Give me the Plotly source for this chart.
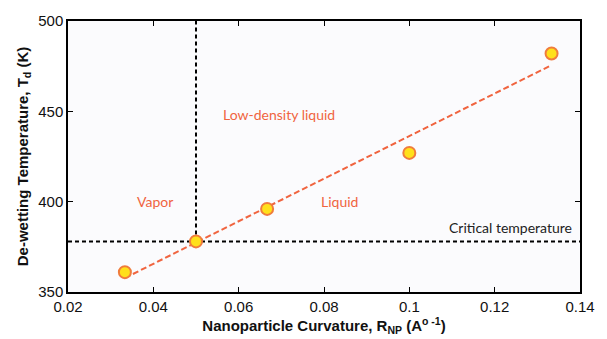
import numpy as np
import plotly.graph_objects as go

# Nanoparticle curvature (1/Å) and de-wetting temperature (K)
curvature = [1 / 30, 0.05, 1 / 15, 0.10, 2 / 15]
t_dewet = [361, 378, 396, 427, 482]
t_critical = 378
x_range = [0.02, 0.14]
y_range = [350, 500]
x_ticks = [0.02, 0.04, 0.06, 0.08, 0.10, 0.12, 0.14]
x_tick_text = ["0.02", "0.04", "0.06", "0.08", "0.1", "0.12", "0.14"]
y_ticks = [350, 400, 450, 500]

# Least-squares linear fit through the measured points
slope, intercept = np.polyfit(curvature, t_dewet, 1)
fit_x = [curvature[0], curvature[-1]]
fit_y = [slope * v + intercept for v in fit_x]

accent = "#F0643F"

fig = go.Figure()

# Critical temperature (horizontal) and vapor boundary (vertical)
fig.add_trace(go.Scatter(x=x_range, y=[t_critical, t_critical], mode="lines",
                         line=dict(color="black", width=2, dash="4px,3px"),
                         hoverinfo="skip", showlegend=False))
fig.add_trace(go.Scatter(x=[curvature[1], curvature[1]], y=[t_critical, y_range[1]],
                         mode="lines", line=dict(color="black", width=2, dash="4px,3px"),
                         hoverinfo="skip", showlegend=False))

fig.add_trace(go.Scatter(x=fit_x, y=fit_y, mode="lines",
                         line=dict(color=accent, width=2, dash="6px,3px"),
                         showlegend=False))
fig.add_trace(go.Scatter(x=curvature, y=t_dewet, mode="markers",
                         marker=dict(size=12, color="#FFE01A",
                                     line=dict(color="#F07C3C", width=2)),
                         showlegend=False))

label_font = dict(family="Lato, Open Sans, sans-serif", size=14, color=accent)
fig.add_annotation(x=0.0694, y=448, text="Low-density liquid", showarrow=False, font=label_font)
fig.add_annotation(x=0.0405, y=400, text="Vapor", showarrow=False, font=label_font)
fig.add_annotation(x=0.0837, y=400, text="Liquid", showarrow=False, font=label_font)
fig.add_annotation(x=0.1385, y=385.6, text="Critical temperature", showarrow=False,
                   xanchor="right",
                   font=dict(family="Lato, Open Sans, sans-serif", size=14, color="#222222"))

axis_common = dict(showgrid=False, zeroline=False, showline=True, linecolor="black",
                   linewidth=1.5, mirror="allticks", ticks="inside", ticklen=5,
                   tickcolor="black",
                   tickfont=dict(family="Arial, Liberation Sans, sans-serif", size=15,
                                 color="#111111"))

fig.update_xaxes(range=x_range, tickvals=x_ticks, ticktext=x_tick_text,
                 title=dict(text="<b>Nanoparticle Curvature, R<sub>NP</sub> (A<sup>o -1</sup>)</b>",
                            font=dict(family="Arial, Liberation Sans, sans-serif", size=15,
                                      color="#111111"), standoff=2),
                 **axis_common)
fig.update_yaxes(range=y_range, tickvals=y_ticks,
                 title=dict(text="<b>De-wetting Temperature, T<sub>d</sub> (K)</b>",
                            font=dict(family="Arial, Liberation Sans, sans-serif", size=15,
                                      color="#111111"), standoff=6),
                 **axis_common)

fig.update_layout(width=607, height=339, margin=dict(l=68, r=17, t=16, b=44),
                  paper_bgcolor="white", plot_bgcolor="#FBFBFD",
                  font=dict(family="Arial, Liberation Sans, sans-serif"))

fig.write_html("out.html")
